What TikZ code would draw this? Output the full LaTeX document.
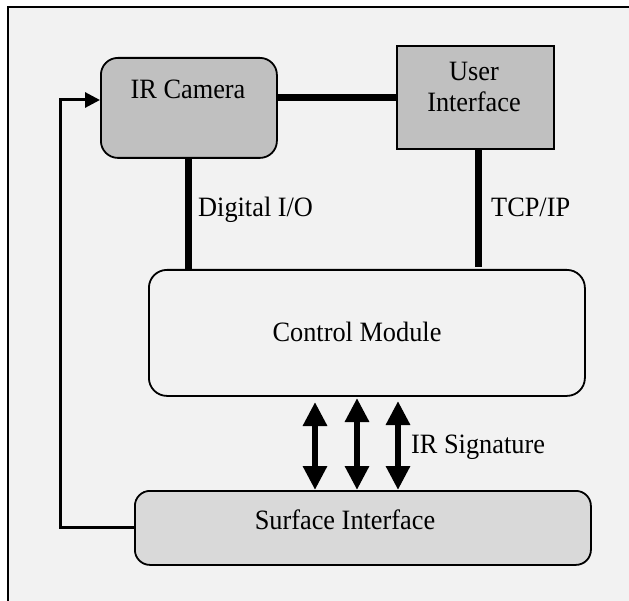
\documentclass[tikz,border=0pt]{standalone}
\usepackage{fontspec}
\setmainfont{Liberation Serif}
\usetikzlibrary{arrows.meta,calc}
\newcommand\narrowtext[1]{\scalebox{0.94}[1]{#1}}
\definecolor{panel}{HTML}{F2F2F2}
\definecolor{darkbox}{HTML}{C0C0C0}
\definecolor{lightbox}{HTML}{D9D9D9}
\tikzset{
  block/.style={draw=black, line width=1.8pt, inner sep=0pt, anchor=north west},
  lbl/.style={inner sep=0pt, font=\fontsize{28}{31}\selectfont},
  bus/.style={line width=7pt},
  signal/.style={line width=6.5pt, {Triangle[width=23pt,length=24pt]}-{Triangle[width=23pt,length=24pt]}},
  feedback/.style={line width=3pt, -{Triangle[width=15pt,length=15pt]}}
}
\begin{document}
\begin{tikzpicture}[x=1pt, y=-1pt]
  % page and panel
  \fill[white] (0,0) rectangle (629,601);
  \useasboundingbox (0,0) rectangle (629,601);
  \fill[panel] (9,7) rectangle (629,601);
  \draw[line width=2pt] (629,7) -- (8,7) -- (8,601);

  % blocks
  \node[block, fill=darkbox, rounded corners=17pt, minimum width=176pt, minimum height=100pt] (cam) at (100,57) {};
  \node[block, fill=darkbox, minimum width=157pt, minimum height=103pt] (ui) at (396,45) {};
  \node[block, fill=panel, rounded corners=18pt, minimum width=436pt, minimum height=126pt] (ctl) at (148,269) {};
  \node[block, fill=lightbox, rounded corners=15pt, minimum width=456pt, minimum height=74pt] (surf) at (134,490) {};

  % block captions
  \node[lbl, anchor=base] (camtxt) at (188,99) {\narrowtext{IR Camera}};
  \node[lbl, anchor=base] (uitxt1) at (474,81) {\narrowtext{User}};
  \node[lbl, anchor=base] (uitxt2) at (474,112) {\narrowtext{Interface}};
  \node[lbl, anchor=base] (ctltxt) at (357,342) {\narrowtext{Control Module}};
  \node[lbl, anchor=base] (surftxt) at (345,529) {\narrowtext{Surface Interface}};

  % helper coordinates for connector routing
  \coordinate (camlink) at (0,98);
  \coordinate (tcpx) at (478,0);
  \coordinate (loopx) at (60,0);
  \coordinate (loopy) at (0,100);
  \coordinate (sigA) at (315,402);
  \coordinate (sigB) at (357,398);
  \coordinate (sigC) at (398,401);

  % buses
  \draw[bus] (cam.east |- camlink) -- (ui.west |- camlink);
  \draw[bus] (cam.south) -- (cam.south |- ctl.north);
  \draw[bus] (ui.south -| tcpx) -- ($(ctl.north -| tcpx)+(0,-2)$);

  % IR signature exchange
  \draw[signal] (sigA) -- (sigA |- surf.north);
  \draw[signal] (sigB) -- (sigB |- surf.north);
  \draw[signal] (sigC) -- (sigC |- surf.north);

  % feedback from surface to camera
  \draw[feedback] (surf.west) -- (surf.west -| loopx) -- (loopx |- loopy) -- (cam.west |- loopy);

  % connector labels
  \node[lbl, anchor=base west] (diglbl) at (198,217) {\narrowtext{Digital I/O}};
  \node[lbl, anchor=base west] (tcplbl) at (491,217) {\narrowtext{TCP/IP}};
  \node[lbl, anchor=base west] (siglbl) at (411,453) {\narrowtext{IR Signature}};
\end{tikzpicture}
\end{document}
